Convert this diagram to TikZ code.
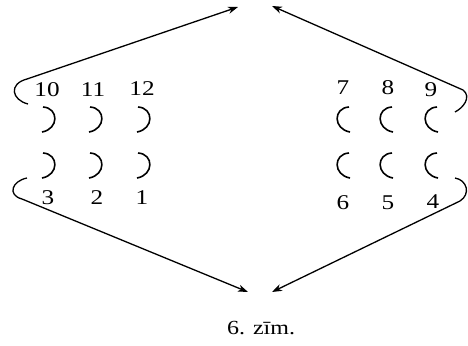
\documentclass[tikz,border=0pt]{standalone}
\usepackage{fontspec}
\setmainfont{Liberation Serif}
\usetikzlibrary{arrows.meta}
\begin{document}
\begin{tikzpicture}[x=1pt,y=-1pt,
  num/.style={inner sep=0pt,font=\fontsize{21}{24}\selectfont,xscale=1.2},
  captext/.style={inner sep=0pt,font=\fontsize{20}{24}\selectfont,xscale=1.2},
  arr/.style={line width=1.3pt,-{Stealth[length=10pt,width=7pt,inset=3pt]}},
  pin/.style={line width=1.6pt}]
\useasboundingbox (0,0) rectangle (468,345);
% numbers left
\node[num] (n10) at (47,90) {10};
\node[num] (n11) at (93,90) {11};
\node[num] (n12) at (142,89) {12};
\node[num] (n3) at (48,198) {3};
\node[num] (n2) at (97,198) {2};
\node[num] (n1) at (142,198) {1};
% numbers right
\node[num] (n7) at (343,88) {7};
\node[num] (n8) at (388,88) {8};
\node[num] (n9) at (431,90) {9};
\node[num] (n6) at (343,203) {6};
\node[num] (n5) at (388,203) {5};
\node[num] (n4) at (433,202) {4};
% pins left ")"
\foreach \x in {49,96,144}{
  \foreach \y in {119,165}{
    \draw[pin] (\x-6,\y-12) .. controls (\x+10,\y-11) and (\x+10,\y+10) .. (\x-7,\y+13);
  }
}
% pins right "("
\foreach \x in {343,386,431}{
  \foreach \y in {119,165}{
    \draw[pin] (\x+6,\y-12) .. controls (\x-10,\y-11) and (\x-10,\y+10) .. (\x+7,\y+13);
  }
}
% arrow targets
\coordinate (tl) at (238,7);
\coordinate (tr) at (272,6);
\coordinate (bl) at (248,292);
\coordinate (br) at (272,292);
% hooks with arrows
\draw[arr] (28,104) .. controls (12,100) and (8,84) .. (27,79) -- (tl);
\draw[arr] (27,178) .. controls (12,181) and (7,195) .. (22,199) -- (bl);
\draw[arr] (455,112) .. controls (463,108) and (472,97) .. (463,90) -- (tr);
\draw[arr] (455,178) .. controls (467,180) and (471,194) .. (460,201) -- (br);
% caption
\node[captext] (caption) at (261,328) {6. zīm.};
\end{tikzpicture}
\end{document}
